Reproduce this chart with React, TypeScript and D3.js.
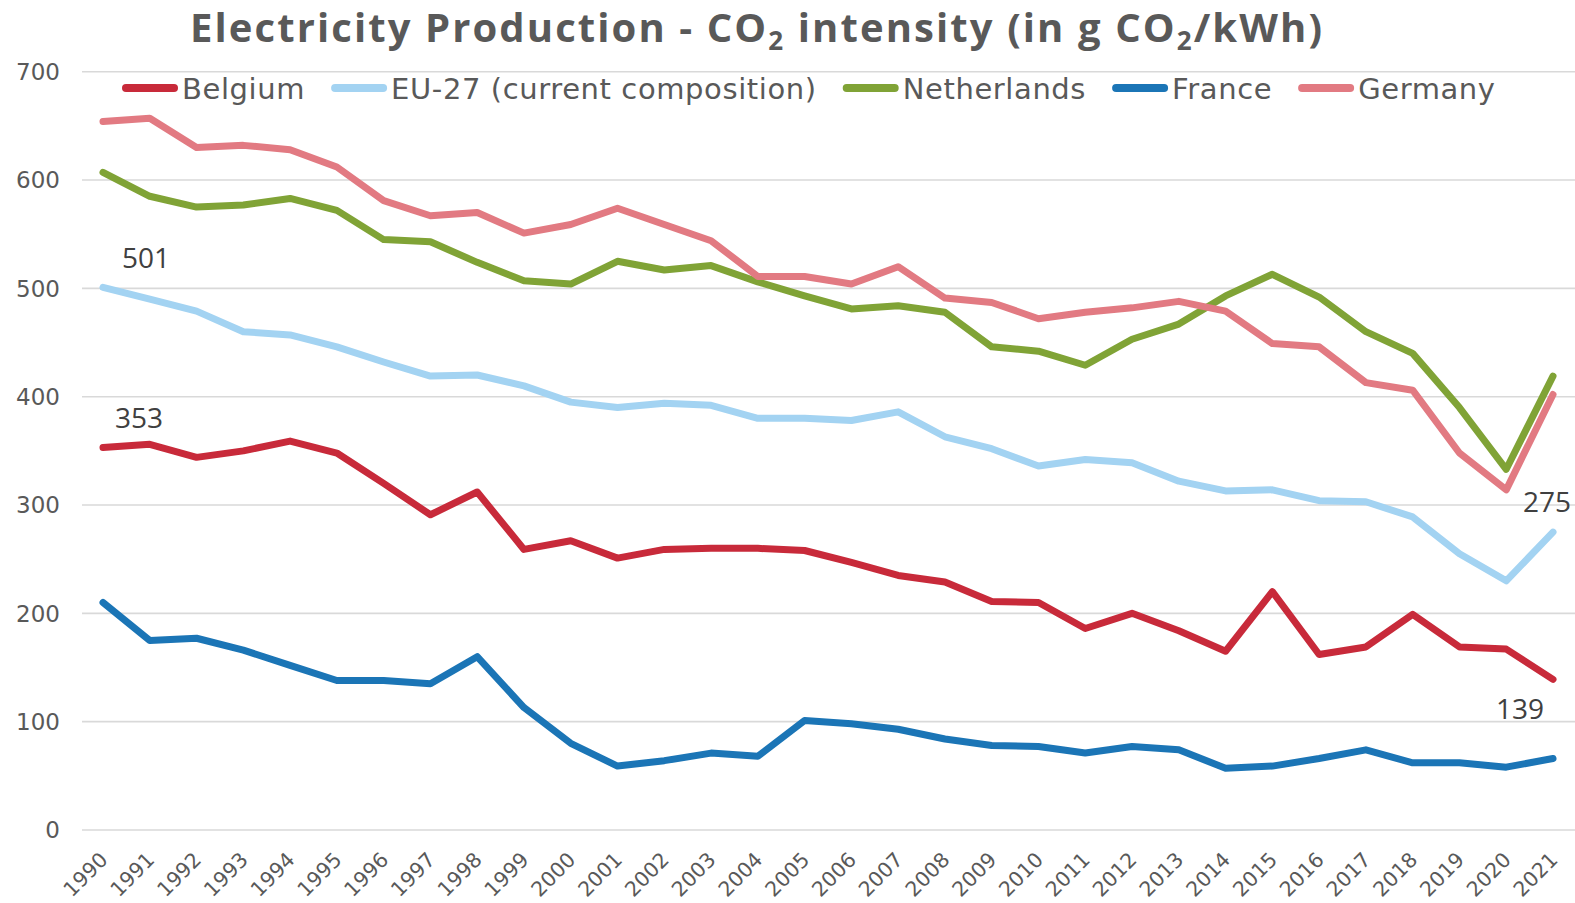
import React, { useEffect, useRef } from "react";
import * as d3 from "d3";

const years = [
  "1990", "1991", "1992", "1993", "1994", "1995", "1996", "1997", "1998", "1999",
  "2000", "2001", "2002", "2003", "2004", "2005", "2006", "2007", "2008", "2009",
  "2010", "2011", "2012", "2013", "2014", "2015", "2016", "2017", "2018", "2019",
  "2020", "2021"
];

const belgium = [
  353, 356, 344, 350, 359, 348, 320, 291, 312, 259,
  267, 251, 259, 260, 260, 258, 247, 235, 229, 211,
  210, 186, 200, 184, 165, 220, 162, 169, 199, 169,
  167, 139
];
const eu27 = [
  501, 490, 479, 460, 457, 446, 432, 419, 420, 410,
  395, 390, 394, 392, 380, 380, 378, 386, 363, 352,
  336, 342, 339, 322, 313, 314, 304, 303, 289, 255,
  230, 275
];
const netherlands = [
  607, 585, 575, 577, 583, 572, 545, 543, 524, 507,
  504, 525, 517, 521, 506, 493, 481, 484, 478, 446,
  442, 429, 453, 467, 493, 513, 492, 460, 440, 390,
  333, 419
];
const france = [
  210, 175, 177, 166, 152, 138, 138, 135, 160, 113,
  80, 59, 64, 71, 68, 101, 98, 93, 84, 78,
  77, 71, 77, 74, 57, 59, 66, 74, 62, 62,
  58, 66
];
const germany = [
  654, 657, 630, 632, 628, 612, 581, 567, 570, 551,
  559, 574, 559, 544, 511, 511, 504, 520, 491, 487,
  472, 478, 482, 488, 479, 449, 446, 413, 406, 348,
  314, 402
];

const seriesNames = ["Belgium", "EU-27 (current composition)", "Netherlands", "France", "Germany"];
const seriesColors = ["#c82a3a", "#a3d3f2", "#80a336", "#1b75b6", "#e27a82"];
const yTicks = [0, 100, 200, 300, 400, 500, 600, 700];

// which points get a value label: [series index, year index]
const labelPoints = [
  [1, 0],
  [0, 0],
  [1, 31],
  [0, 31]
];
const labelOffsets = [
  [43, -19],
  [36, -20],
  [-6, -20],
  [-33, 40]
];

const W = 1575;
const H = 903;

export default function App() {
  const ref = useRef<SVGSVGElement>(null);

  useEffect(() => {
    const svg = d3.select(ref.current);
    svg.selectAll("*").remove();

    const allSeries = [belgium, eu27, netherlands, france, germany];

    const x = d3.scalePoint().domain(years).range([103, 1553]);
    const y = d3.scaleLinear().domain([0, 700]).range([830, 71.7]);

    // gridlines
    svg
      .append("g")
      .selectAll("line")
      .data(yTicks)
      .join("line")
      .attr("x1", 82)
      .attr("x2", W)
      .attr("y1", d => y(d))
      .attr("y2", d => y(d))
      .attr("stroke", "#d9d9d9")
      .attr("stroke-width", 1.6);

    // y labels
    svg
      .append("g")
      .selectAll("text")
      .data(yTicks)
      .join("text")
      .attr("x", 60)
      .attr("y", d => y(d))
      .attr("dy", "0.36em")
      .attr("text-anchor", "end")
      .attr("font-family", "DejaVu Sans")
      .attr("font-size", 23)
      .attr("fill", "#595959")
      .text(d => d);

    // x labels
    svg
      .append("g")
      .selectAll("text")
      .data(years)
      .join("text")
      .attr("transform", d => `translate(${(x(d) as number) + 6},861) rotate(-45)`)
      .attr("text-anchor", "end")
      .attr("font-family", "DejaVu Sans")
      .attr("font-size", 20.5)
      .attr("fill", "#595959")
      .text(d => d);

    // lines
    const line = d3
      .line<number>()
      .x((d, i) => x(years[i]) as number)
      .y(d => y(d));

    svg
      .append("g")
      .selectAll("path")
      .data(allSeries)
      .join("path")
      .attr("d", d => line(d))
      .attr("fill", "none")
      .attr("stroke", (d, i) => seriesColors[i])
      .attr("stroke-width", 7)
      .attr("stroke-linejoin", "round")
      .attr("stroke-linecap", "round");

    // value labels
    svg
      .append("g")
      .selectAll("text")
      .data(labelPoints)
      .join("text")
      .attr("x", (d, i) => (x(years[d[1]]) as number) + labelOffsets[i][0])
      .attr("y", (d, i) => y(allSeries[d[0]][d[1]]) + labelOffsets[i][1])
      .attr("text-anchor", "middle")
      .attr("font-family", "Open Sans")
      .attr("font-size", 28)
      .attr("fill", "#404040")
      .text(d => allSeries[d[0]][d[1]]);

    // legend
    const legend = svg.append("g");
    let lx = 122;
    seriesNames.forEach((name, i) => {
      legend
        .append("line")
        .attr("x1", lx + 4)
        .attr("x2", lx + 52)
        .attr("y1", 88)
        .attr("y2", 88)
        .attr("stroke", seriesColors[i])
        .attr("stroke-width", 8)
        .attr("stroke-linecap", "round");
      const t = legend
        .append("text")
        .attr("x", lx + 60)
        .attr("y", 99)
        .attr("font-family", "DejaVu Sans")
        .attr("font-size", 29)
        .attr("letter-spacing", 0.6)
        .attr("fill", "#595959")
        .text(name);
      const w = (t.node() as SVGTextElement).getComputedTextLength();
      lx = lx + 60 + w + 26;
    });

    // title
    const title = svg
      .append("text")
      .attr("x", 757)
      .attr("y", 42)
      .attr("text-anchor", "middle")
      .attr("font-family", "Open Sans")
      .attr("font-weight", "bold")
      .attr("font-size", 40)
      .attr("letter-spacing", 2.1)
      .attr("fill", "#595959");
    title.append("tspan").text("Electricity Production - CO");
    title.append("tspan").attr("font-size", 26).attr("dy", 8).text("2");
    title.append("tspan").attr("dy", -8).text(" intensity (in g CO");
    title.append("tspan").attr("font-size", 26).attr("dy", 8).text("2");
    title.append("tspan").attr("dy", -8).text("/kWh)");
  }, []);

  return (
    <svg
      ref={ref}
      width={W}
      height={H}
      style={{ position: "absolute", left: 0, top: 0, background: "#fff" }}
    />
  );
}
